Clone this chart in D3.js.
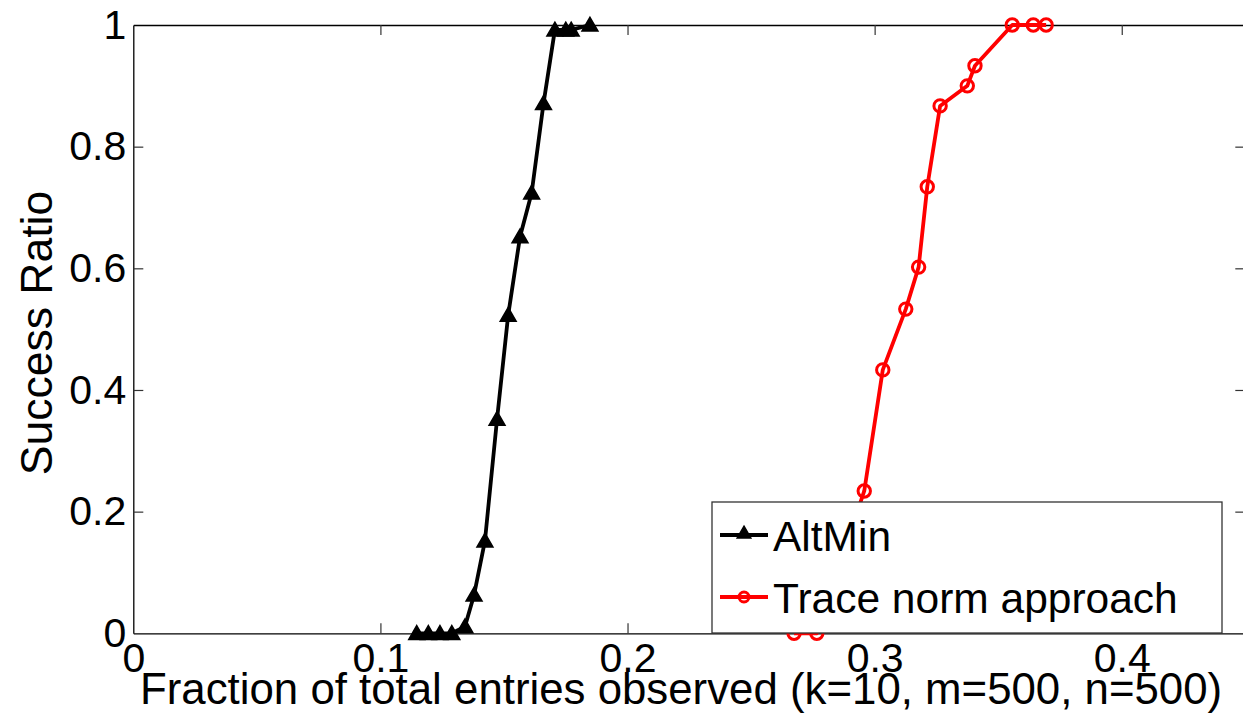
<!DOCTYPE html>
<html>
<head>
<meta charset="utf-8">
<script src="https://cdn.jsdelivr.net/npm/d3@7"></script>
<style>
  html, body { margin: 0; padding: 0; background: #fff; }
  svg { display: block; font-family: "Liberation Sans", Arial, Helvetica, sans-serif; }
</style>
</head>
<body>
<svg id="chart" width="1243" height="720"></svg>
<script>
// ---- data ----
const altMinX = [0.1147, 0.1194, 0.1241, 0.1289, 0.1342, 0.1379, 0.1423, 0.1472, 0.1517, 0.1565, 0.1612, 0.1660, 0.1706, 0.1750, 0.1772, 0.1848];
const altMinY = [0, 0, 0, 0, 0.011, 0.063, 0.152, 0.352, 0.523, 0.652, 0.724, 0.871, 0.992, 0.992, 0.992, 1.0];
const traceX = [0.2674, 0.2766, 0.2958, 0.3033, 0.3126, 0.3178, 0.3213, 0.3265, 0.3375, 0.3406, 0.3557, 0.3642, 0.3694];
const traceY = [0, 0, 0.234, 0.433, 0.533, 0.602, 0.734, 0.867, 0.900, 0.933, 1.0, 1.0, 1.0];
const xTicks = [0, 0.1, 0.2, 0.3, 0.4];
const yTicks = [0, 0.2, 0.4, 0.6, 0.8, 1];
const xTickLabels = ["0", "0.1", "0.2", "0.3", "0.4"];
const yTickLabels = ["0", "0.2", "0.4", "0.6", "0.8", "1"];
const seriesNames = ["AltMin", "Trace norm approach"];
const xLabel = "Fraction of total entries observed (k=10, m=500, n=500)";
const yLabel = "Success Ratio";

// ---- layout ----
const L = 133.3, R = 1245.3, T = 25, B = 633.3;
const svg = d3.select("#chart");
const x = d3.scaleLinear().domain([0, 0.45]).range([L, R]);
const y = d3.scaleLinear().domain([0, 1]).range([B, T]);

// axes (inward ticks, mirrored box)
const tickLen = 10;
const gB = svg.append("g").attr("transform", `translate(0,${B})`)
  .call(d3.axisBottom(x).tickValues(xTicks).tickSizeInner(-tickLen).tickSizeOuter(0).tickPadding(10)
    .tickFormat((d, i) => xTickLabels[i]));
const gT = svg.append("g").attr("transform", `translate(0,${T})`)
  .call(d3.axisTop(x).tickValues(xTicks).tickSizeInner(-tickLen).tickSizeOuter(0).tickFormat(""));
const gL = svg.append("g").attr("transform", `translate(${L},0)`)
  .call(d3.axisLeft(y).tickValues(yTicks).tickSizeInner(-tickLen).tickSizeOuter(0).tickPadding(7)
    .tickFormat((d, i) => yTickLabels[i]));
const gR = svg.append("g").attr("transform", `translate(${R},0)`)
  .call(d3.axisRight(y).tickValues(yTicks).tickSizeInner(-tickLen).tickSizeOuter(0).tickFormat(""));

[gB, gT, gL, gR].forEach(g => {
  g.select(".domain").attr("stroke", "#000").attr("stroke-width", 1.3);
  g.selectAll(".tick line").attr("stroke", "#333").attr("stroke-width", 1.2);
  g.selectAll(".tick text").attr("fill", "#000").attr("font-size", 41)
    .attr("font-family", "Liberation Sans, Arial, sans-serif");
});
gB.selectAll(".tick text").attr("dy", "0.71em");
gB.selectAll(".tick line").filter(d => d === 0).remove();
gT.selectAll(".tick line").filter(d => d === 0).remove();
gL.selectAll(".tick line").filter(d => d === 0 || d === 1).remove();
gR.selectAll(".tick line").filter(d => d === 0 || d === 1).remove();

// axis labels
svg.append("text")
  .attr("x", 140).attr("y", 704)
  .attr("font-size", 43.8).attr("fill", "#000")
  .text(xLabel);
svg.append("text")
  .attr("transform", `translate(52,333) rotate(-90)`)
  .attr("text-anchor", "middle")
  .attr("font-size", 44.5).attr("fill", "#000")
  .text(yLabel);

// series
const altMin = altMinX.map((v, i) => [v, altMinY[i]]);
const trace = traceX.map((v, i) => [v, traceY[i]]);
const line = d3.line().x(d => x(d[0])).y(d => y(d[1]));
const tri = d3.symbol().type(d3.symbolTriangle).size(110);

svg.append("path").datum(altMin).attr("d", line)
  .attr("fill", "none").attr("stroke", "#000").attr("stroke-width", 3.8).attr("stroke-linejoin", "round");
svg.append("g").selectAll("path").data(altMin).join("path")
  .attr("d", tri)
  .attr("transform", d => `translate(${x(d[0])},${y(d[1]) + 1.5})`)
  .attr("fill", "#000").attr("stroke", "#000").attr("stroke-width", 1.5);

svg.append("path").datum(trace).attr("d", line)
  .attr("fill", "none").attr("stroke", "#ff0000").attr("stroke-width", 3.8).attr("stroke-linejoin", "round");
svg.append("g").selectAll("circle").data(trace).join("circle")
  .attr("cx", d => x(d[0])).attr("cy", d => y(d[1])).attr("r", 6.2)
  .attr("fill", "none").attr("stroke", "#ff0000").attr("stroke-width", 3);

// legend
const lg = svg.append("g");
lg.append("rect").attr("x", 712).attr("y", 502).attr("width", 510).attr("height", 131)
  .attr("fill", "#fff").attr("stroke", "#333").attr("stroke-width", 1.3);
const legendRows = [
  { name: seriesNames[0], color: "#000", y: 535, marker: "tri" },
  { name: seriesNames[1], color: "#ff0000", y: 597, marker: "circ" }
];
legendRows.forEach(r => {
  lg.append("line").attr("x1", 720).attr("x2", 768).attr("y1", r.y).attr("y2", r.y)
    .attr("stroke", r.color).attr("stroke-width", 3.8);
  if (r.marker === "tri") {
    lg.append("path").attr("d", d3.symbol().type(d3.symbolTriangle).size(80))
      .attr("transform", `translate(744,${r.y - 1})`)
      .attr("fill", r.color).attr("stroke", r.color).attr("stroke-width", 1.5);
  } else {
    lg.append("circle").attr("cx", 744).attr("cy", r.y).attr("r", 5)
      .attr("fill", "none").attr("stroke", r.color).attr("stroke-width", 3);
  }
  lg.append("text").attr("x", 773).attr("y", r.y + 16)
    .attr("font-size", 42.5).attr("fill", "#000").text(r.name);
});
</script>
</body>
</html>
